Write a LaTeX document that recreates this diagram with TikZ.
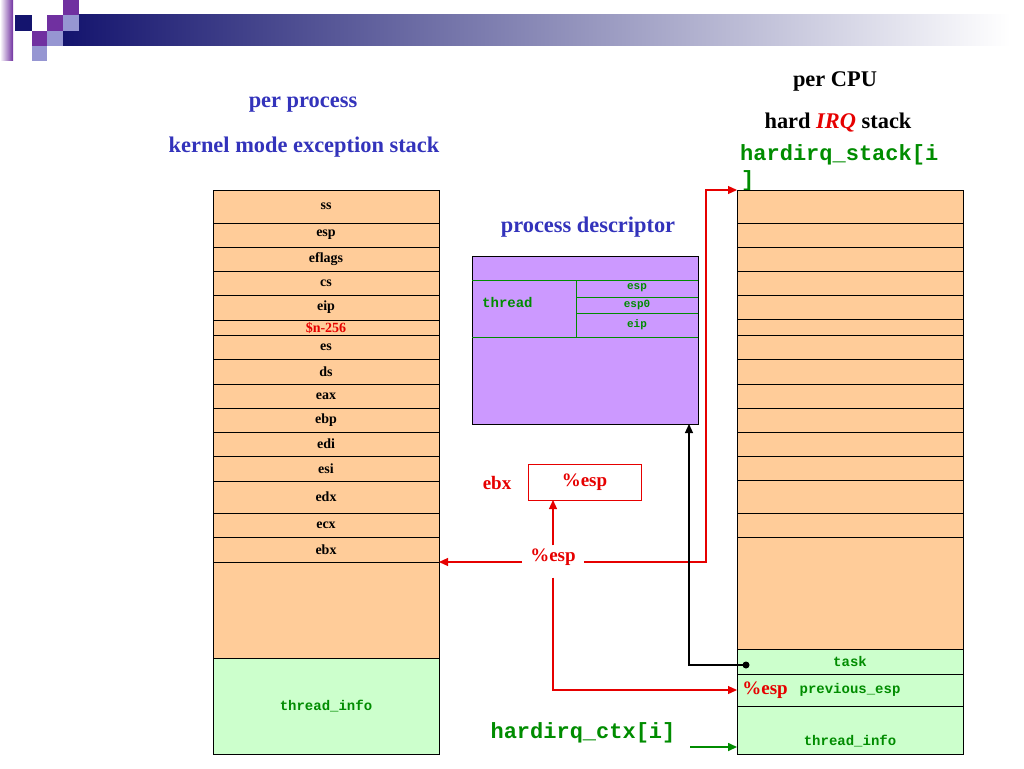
\documentclass[tikz,border=0pt]{standalone}
\usepackage{fontspec}
\setmainfont{Liberation Serif}
\setmonofont{Liberation Mono}
\usetikzlibrary{arrows.meta,calc}
\definecolor{stk}{RGB}{255,204,153}
\definecolor{tinfo}{RGB}{204,255,204}
\definecolor{pdesc}{RGB}{204,153,255}
\definecolor{ttlblue}{RGB}{51,51,187}
\definecolor{codegreen}{RGB}{0,140,0}
\definecolor{arrred}{RGB}{230,0,0}
\definecolor{navyd}{RGB}{20,20,110}
\definecolor{purp}{RGB}{112,48,160}
\definecolor{lav}{RGB}{150,150,210}
\begin{document}
\begin{tikzpicture}[x=1pt,y=-1pt,
  ocell/.style={draw=black, line width=0.8pt, fill=stk, minimum width=226pt, inner sep=0pt, outer sep=0pt, anchor=north west, font=\fontsize{14}{14}\selectfont\bfseries},
  gcell/.style={ocell, fill=tinfo, text=codegreen, font=\fontsize{14}{14}\selectfont\ttfamily\bfseries},
  ttl/.style={text=ttlblue, font=\fontsize{22.4}{22.4}\selectfont\bfseries, inner sep=0pt},
  blk/.style={text=black, font=\fontsize{22.4}{22.4}\selectfont\bfseries, inner sep=0pt},
  bigcode/.style={text=codegreen, font=\fontsize{22}{22}\selectfont\ttfamily\bfseries, inner sep=0pt},
  smcode/.style={text=codegreen, font=\fontsize{11}{11}\selectfont\ttfamily\bfseries, inner sep=0pt},
  redlbl/.style={text=arrred, font=\fontsize{19}{19}\selectfont\bfseries},
  arr/.style={-{Triangle[length=9pt,width=8pt]}, line width=1.2pt},
  redline/.style={draw=arrred, arr}
]
\path[use as bounding box] (0,0) rectangle (1024,768);

% header decoration
\shade[left color=navyd, right color=white] (63,15) rectangle (1010,46);
\fill[white] (1010,15) rectangle (1024,46);
\shade[left color=white, right color=purp] (0,0) rectangle (13,60);
\fill[navyd] (15,15) rectangle (32,31);
\fill[purp] (47,15) rectangle (63,31);
\fill[purp] (63,0) rectangle (79,15);
\fill[lav] (63,15) rectangle (79,31);
\fill[purp] (32,31) rectangle (47,46);
\fill[lav] (47,31) rectangle (63,46);
\fill[lav] (32,46) rectangle (47,61);

% titles
\node[ttl] (tpp) at (303,105) {per process};
\node[ttl] (tkm) at (304,147) {kernel mode exception stack};
\node[ttl] (tpd) at (588,227) {process descriptor};
\node[blk] (tcpu) at (835,81) {per CPU};
\node[blk] (tirq) at (838,123) {hard \textcolor{arrred}{\itshape IRQ} stack};
\node[bigcode, anchor=west] (hs1) at (740,155) {hardirq\_stack[i};
\node[bigcode, anchor=west] (hs2) at (741,181) {]};

% left stack
\node[ocell, minimum height=33pt] (l1) at (213,190) {ss};
\node[ocell, minimum height=24pt] (l2) at (l1.south west) {esp};
\node[ocell, minimum height=24pt] (l3) at (l2.south west) {eflags};
\node[ocell, minimum height=24pt] (l4) at (l3.south west) {cs};
\node[ocell, minimum height=25pt] (l5) at (l4.south west) {eip};
\node[ocell, minimum height=15pt, text=arrred] (l6) at (l5.south west) {\$n-256};
\node[ocell, minimum height=24pt] (l7) at (l6.south west) {es};
\node[ocell, minimum height=25pt] (l8) at (l7.south west) {ds};
\node[ocell, minimum height=24pt] (l9) at (l8.south west) {eax};
\node[ocell, minimum height=24pt] (l10) at (l9.south west) {ebp};
\node[ocell, minimum height=24pt] (l11) at (l10.south west) {edi};
\node[ocell, minimum height=25pt] (l12) at (l11.south west) {esi};
\node[ocell, minimum height=32pt] (l13) at (l12.south west) {edx};
\node[ocell, minimum height=24pt] (l14) at (l13.south west) {ecx};
\node[ocell, minimum height=25pt] (l15) at (l14.south west) {ebx};
\node[ocell, minimum height=96pt] (l16) at (l15.south west) {};
\node[gcell, minimum height=96pt] (l17) at (l16.south west) {thread\_info};

% right stack
\node[ocell, minimum height=33pt] (r1) at (737,190) {};
\node[ocell, minimum height=24pt] (r2) at (r1.south west) {};
\node[ocell, minimum height=24pt] (r3) at (r2.south west) {};
\node[ocell, minimum height=24pt] (r4) at (r3.south west) {};
\node[ocell, minimum height=24pt] (r5) at (r4.south west) {};
\node[ocell, minimum height=16pt] (r6) at (r5.south west) {};
\node[ocell, minimum height=24pt] (r7) at (r6.south west) {};
\node[ocell, minimum height=25pt] (r8) at (r7.south west) {};
\node[ocell, minimum height=24pt] (r9) at (r8.south west) {};
\node[ocell, minimum height=24pt] (r10) at (r9.south west) {};
\node[ocell, minimum height=24pt] (r11) at (r10.south west) {};
\node[ocell, minimum height=24pt] (r12) at (r11.south west) {};
\node[ocell, minimum height=33pt] (r13) at (r12.south west) {};
\node[ocell, minimum height=24pt] (r14) at (r13.south west) {};
\node[ocell, minimum height=112pt] (r15) at (r14.south west) {};
\node[gcell, minimum height=25pt] (task) at (r15.south west) {task};
\node[gcell, minimum height=32pt] (prev) at (task.south west) {previous\_esp};
\node[gcell, minimum height=48pt] (rthr) at (prev.south west) {};
\node[smcode, font=\fontsize{14}{14}\selectfont\ttfamily\bfseries] (rthrlbl) at (850,741) {thread\_info};
\node[redlbl, inner sep=0pt] (pesp) at (765,690) {\%esp};

% process descriptor
\node[draw=black, line width=0.8pt, fill=pdesc, minimum width=226pt, minimum height=168pt, anchor=north west, inner sep=0pt, outer sep=0pt] (pd) at (472,256) {};
\draw[codegreen, line width=0.8pt] (472,280) -- (698,280) (472,337) -- (698,337)
  (576,280) -- (576,337) (576,297) -- (698,297) (576,313) -- (698,313);
\node[smcode, font=\fontsize{14}{14}\selectfont\ttfamily\bfseries, anchor=west] (thr) at (482,302) {thread};
\node[smcode] (pesp1) at (637,288) {esp};
\node[smcode] (pesp0) at (637,305) {esp0};
\node[smcode] (peip) at (637,325) {eip};

% ebx box
\node[draw=arrred, line width=0.8pt, minimum width=113pt, minimum height=36pt, anchor=north west, inner sep=0pt, outer sep=0pt, redlbl] (ebxbox) at (528,464) {\%esp};
\node[redlbl, inner sep=0pt] (ebxl) at (497,483) {ebx};

% red connectors
\node[redlbl, inner xsep=8pt, inner ysep=3pt] (esplbl) at (553,557) {\%esp};
\coordinate (rturn) at (706,190);
\coordinate (dstart) at ($(esplbl.south)+(0,9)$);
\draw[redline] (esplbl.west |- l15.south east) -- (l15.south east);
\draw[redline] (esplbl.east |- l15.south east) -| (rturn) -- (r1.north west);
\draw[redline] (esplbl.north) -- (esplbl.north |- ebxbox.south);
\draw[redline] (dstart) |- (prev.west);

% black connector
\coordinate (tdot) at (746,665);
\coordinate (bturn) at (689,665);
\draw[arr] (tdot) -- (bturn) -- (bturn |- pd.south);
\fill (tdot) circle (3.5pt);

% green connector
\node[bigcode] (ctx) at (583,733) {hardirq\_ctx[i]};
\coordinate (gstart) at (690,747);
\draw[codegreen, arr, line width=1.6pt] (gstart) -- (gstart -| rthr.west);
\end{tikzpicture}
\end{document}
